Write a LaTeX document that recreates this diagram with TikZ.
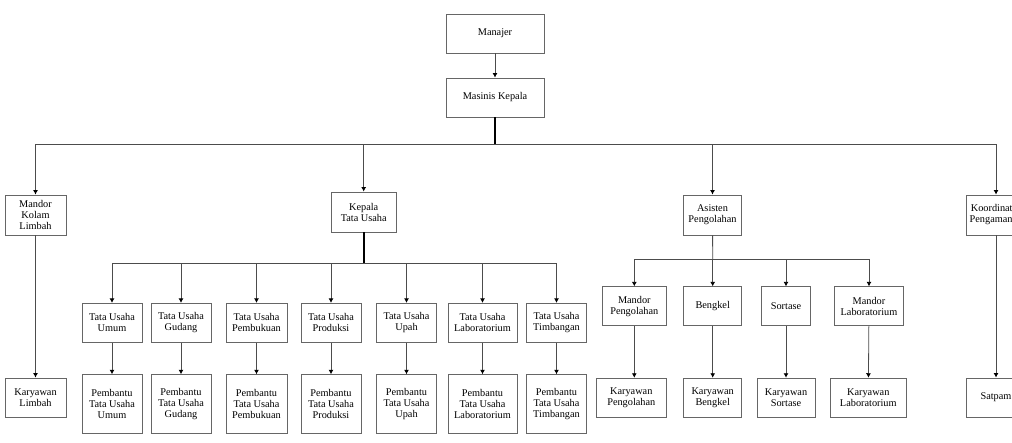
\documentclass[tikz,border=0pt]{standalone}
\usepackage{fontspec}
\setmainfont{Liberation Serif}
\usetikzlibrary{arrows.meta}

\begin{document}
\begin{tikzpicture}[
        x=1pt, y=-1pt,
        font=\fontsize{10.3}{11}\selectfont,
        >={Latex[length=4.5pt,width=5pt,color=black]},
        box/.style={rectangle, draw=black!60, line width=0.9pt, align=center, inner sep=1pt, minimum height=39pt},
        tall/.style={box, minimum height=58.6pt},
        link/.style={->, draw=black!70, line width=0.8pt},
        trunk/.style={draw=black, line width=1.6pt},
      ]
        \useasboundingbox (0,0) rectangle (1012,442);

        % top
        \node[box, minimum width=98pt] (manajer) at (495,33.5) {Manajer};
        \node[box, minimum width=98pt] (masinis) at (495,97.5) {Masinis Kepala};

        % second level
        \node[box, minimum width=61pt, minimum height=40pt] (kolam) at (35.5,215) {Mandor\\Kolam\\Limbah};
        \node[box, minimum width=65pt, minimum height=40pt] (kepalatu) at (363.7,212) {Kepala\\Tata Usaha};
        \node[box, minimum width=58pt, minimum height=40pt] (asisten) at (712.5,215) {Asisten\\Pengolahan};
        \node[box, minimum width=60pt, minimum height=40pt] (koord) at (996,215) {Koordinator\\Pengamanan};

        \node[box, minimum width=61pt] (karlimbah) at (35.5,397.5) {Karyawan\\Limbah};
        \node[box, minimum width=60pt] (satpam) at (996,397.5) {Satpam};

        % tata usaha
        \node[box, minimum width=60pt] (tuumum) at (112,322.8) {Tata Usaha\\Umum};
        \node[box, minimum width=60pt] (tugudang) at (181,322.8) {Tata Usaha\\Gudang};
        \node[box, minimum width=61pt] (tubuku) at (256.5,322.8) {Tata Usaha\\Pembukuan};
        \node[box, minimum width=60pt] (tuprod) at (331,322.8) {Tata Usaha\\Produksi};
        \node[box, minimum width=60pt] (tuupah) at (406.5,322.8) {Tata Usaha\\Upah};
        \node[box, minimum width=69pt] (tulab) at (482.5,322.8) {Tata Usaha\\Laboratorium};
        \node[box, minimum width=60pt] (tutimb) at (556.5,322.8) {Tata Usaha\\Timbangan};

        \node[tall, minimum width=60pt] (pumum) at (112,404) {Pembantu\\Tata Usaha\\Umum};
        \node[tall, minimum width=60pt] (pgudang) at (181,404) {Pembantu\\Tata Usaha\\Gudang};
        \node[tall, minimum width=61pt] (pbuku) at (256.5,404) {Pembantu\\Tata Usaha\\Pembukuan};
        \node[tall, minimum width=60pt] (pprod) at (331,404) {Pembantu\\Tata Usaha\\Produksi};
        \node[tall, minimum width=60pt] (pupah) at (406.5,404) {Pembantu\\Tata Usaha\\Upah};
        \node[tall, minimum width=69pt] (plab) at (482.5,404) {Pembantu\\Tata Usaha\\Laboratorium};
        \node[tall, minimum width=60pt] (ptimb) at (556.5,404) {Pembantu\\Tata Usaha\\Timbangan};

        % pengolahan
        \node[box, minimum width=64pt] (mpengolahan) at (634.3,306.3) {Mandor\\Pengolahan};
        \node[box, minimum width=58pt] (bengkel) at (712.7,306.3) {Bengkel};
        \node[box, minimum width=49pt] (sortase) at (786,306.3) {Sortase};
        \node[box, minimum width=68.6pt] (mlab) at (869,306.3) {Mandor\\Laboratorium};

        \node[box, minimum width=69.3pt] (kpengolahan) at (631.3,397.7) {Karyawan\\Pengolahan};
        \node[box, minimum width=58pt] (kbengkel) at (712.7,397.7) {Karyawan\\Bengkel};
        \node[box, minimum width=58pt] (ksortase) at (786,397.7) {Karyawan\\Sortase};
        \node[box, minimum width=76pt] (klab) at (868.3,397.7) {Karyawan\\Laboratorium};

        \coordinate (bus1) at (495,144);
        \coordinate (bus2) at (363.7,263.3);
        \coordinate (bus3) at (712.7,259.3);

        \draw[link] (manajer) -- (masinis);
        \draw[trunk] (masinis) -- (bus1);
        \draw[link] (bus1) -| (kolam);
        \draw[link] (bus1) -| (kepalatu);
        \draw[link] (bus1) -| (asisten);
        \draw[link] (bus1) -| (koord);
        \draw[link] (kolam) -- (karlimbah);
        \draw[link] (koord) -- (satpam);

        \draw[trunk] (kepalatu) -- (bus2);
        \foreach \t/\p in {tuumum/pumum, tugudang/pgudang, tubuku/pbuku, tuprod/pprod, tuupah/pupah, tulab/plab, tutimb/ptimb}{
          \draw[link] (bus2) -| (\t);
          \draw[link] (\t) -- (\p);
        }

        \draw[link, -] (asisten) -- (bus3);
        \draw[link] (bus3) -| (mpengolahan);
        \draw[link] (bus3) -- (bengkel);
        \draw[link] (bus3) -| (sortase);
        \draw[link] (bus3) -| (mlab);
        \draw[link] (mpengolahan.south) -- (mpengolahan.south |- kpengolahan.north);
        \draw[link] (bengkel) -- (kbengkel);
        \draw[link] (sortase) -- (ksortase);
        \draw[link] (mlab) -- (klab);
      \end{tikzpicture}
\end{document}
